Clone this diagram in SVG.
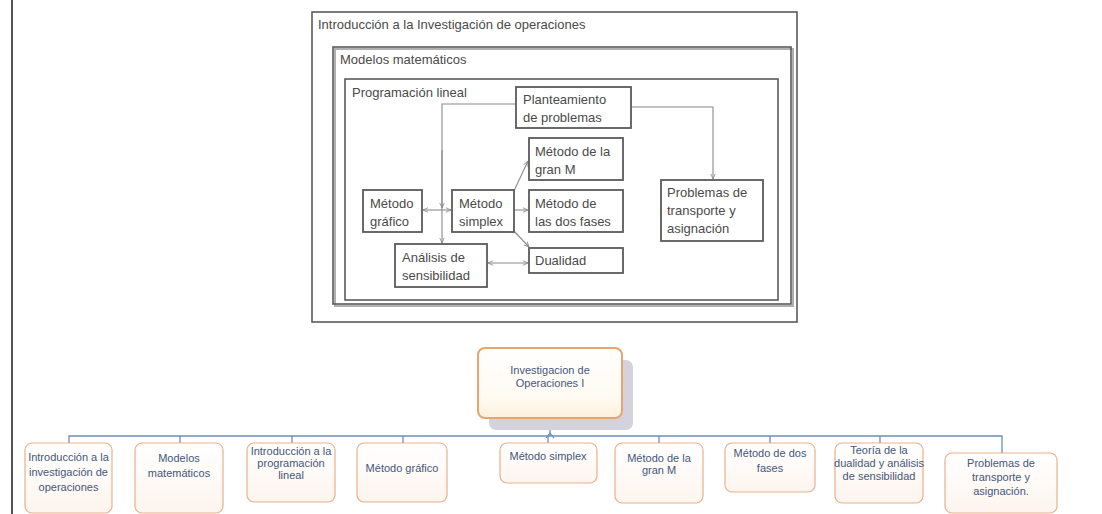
<svg xmlns="http://www.w3.org/2000/svg" width="1102" height="514" viewBox="0 0 1102 514">
<style>
.frame{fill:none;stroke:#5a5a5a;stroke-width:1.6}
.nbox{fill:#fff;stroke:#5a5a5a;stroke-width:1.8}
.t{font-family:"Liberation Sans",Arial,sans-serif;font-size:13px;fill:#4a4a4a}
.ln{fill:none;stroke:#8a8a8a;stroke-width:1.1}
.ob{fill:url(#og);stroke:#eab08a;stroke-width:1.2}
.bt{font-family:"Liberation Sans",Arial,sans-serif;font-size:11px;fill:#44577a;text-anchor:middle}
.bl{fill:none;stroke:#6f8db8;stroke-width:1.3}
</style>
<defs>
<marker id="ah" viewBox="0 0 10 10" refX="9" refY="5" markerWidth="6" markerHeight="6" orient="auto-start-reverse" markerUnits="userSpaceOnUse">
<path d="M0,1 L9,5 L0,9" fill="none" stroke="#8a8a8a" stroke-width="1.4"/>
</marker>
<linearGradient id="og" x1="0" y1="0" x2="0" y2="1">
<stop offset="0" stop-color="#ffffff"/>
<stop offset="1" stop-color="#fdf5ee"/>
</linearGradient>
<linearGradient id="rg" x1="0" y1="0" x2="0" y2="1">
<stop offset="0" stop-color="#ffffff"/>
<stop offset="0.7" stop-color="#fffaf2"/>
<stop offset="1" stop-color="#fdf0dc"/>
</linearGradient>
</defs>

<line x1="12" y1="0" x2="12" y2="514" stroke="#555" stroke-width="2"/>

<g id="frame-intro">
<rect class="frame" x="312" y="12" width="485" height="310"/>
<text class="t" x="318" y="29">Introducción a la Investigación de operaciones</text>
</g>
<g id="frame-modelos">
<rect x="335" y="49" width="458" height="257" fill="none" stroke="#b0b0b0" stroke-width="2"/>
<rect class="frame" x="333" y="47" width="458" height="257"/>
<text class="t" x="340" y="64">Modelos matemáticos</text>
</g>
<g id="frame-pl">
<rect class="frame" x="345" y="79" width="433" height="221"/>
<text class="t" x="352" y="97">Programación lineal</text>
</g>

<g id="connectors-top">
<path class="ln" d="M516,104 H442 V243" marker-end="url(#ah)"/>
<path class="ln" d="M442,150 V208" marker-end="url(#ah)"/>
<path class="ln" d="M423,210 H451" marker-start="url(#ah)" marker-end="url(#ah)"/>
<path class="ln" d="M513,193 L528,161" marker-end="url(#ah)"/>
<path class="ln" d="M514,210 H528" marker-end="url(#ah)"/>
<path class="ln" d="M513,230 L529,247" marker-end="url(#ah)"/>
<path class="ln" d="M488,263 H528" marker-start="url(#ah)" marker-end="url(#ah)"/>
<path class="ln" d="M631,107 H713 V179" marker-end="url(#ah)"/>
</g>

<g id="n-planteamiento">
<rect class="nbox" x="516" y="87" width="115" height="41"/>
<text class="t" x="523" y="104">Planteamiento</text>
<text class="t" x="523" y="122">de problemas</text>
</g>
<g id="n-granm">
<rect class="nbox" x="529" y="138" width="94" height="42"/>
<text class="t" x="535" y="156">Método de la</text>
<text class="t" x="535" y="174">gran M</text>
</g>
<g id="n-dosfases">
<rect class="nbox" x="529" y="190" width="94" height="42"/>
<text class="t" x="535" y="208">Método de</text>
<text class="t" x="535" y="226">las dos fases</text>
</g>
<g id="n-dualidad">
<rect class="nbox" x="529" y="248" width="94" height="25"/>
<text class="t" x="535" y="265">Dualidad</text>
</g>
<g id="n-transporte">
<rect class="nbox" x="661" y="180" width="102" height="61"/>
<text class="t" x="667" y="197">Problemas de</text>
<text class="t" x="667" y="215">transporte y</text>
<text class="t" x="667" y="233">asignación</text>
</g>
<g id="n-grafico">
<rect class="nbox" x="363" y="190" width="59" height="42"/>
<text class="t" x="370" y="208">Método</text>
<text class="t" x="370" y="226">gráfico</text>
</g>
<g id="n-simplex">
<rect class="nbox" x="452" y="190" width="62" height="42"/>
<text class="t" x="459" y="208">Método</text>
<text class="t" x="459" y="226">simplex</text>
</g>
<g id="n-analisis">
<rect class="nbox" x="395" y="244" width="92" height="43"/>
<text class="t" x="402" y="262">Análisis de</text>
<text class="t" x="402" y="280">sensibilidad</text>
</g>

<g id="connectors-bottom">
<path class="bl" d="M69,443 V436 H1002 V453"/>
<path class="bl" d="M550,418 V436"/>
<path d="M546,438 L550,433 L554,438" fill="none" stroke="#6f8db8" stroke-width="1.2"/>
<path class="bl" d="M180,436 V443 M292,436 V443 M403,436 V443 M548,436 V443 M659,436 V443 M770,436 V443 M880,436 V443"/>
</g>

<g id="root">
<rect x="489" y="360" width="144" height="70" rx="7" fill="#d4d2dc"/>
<rect x="478" y="348" width="144" height="70" rx="7" fill="url(#rg)" stroke="#eaa46e" stroke-width="2"/>
<text class="bt" x="550" y="374">Investigacion de</text>
<text class="bt" x="550" y="387">Operaciones I</text>
</g>

<g id="c1">
<rect class="ob" x="25" y="443" width="87" height="70" rx="7"/>
<text class="bt" x="68.5" y="461">Introducción a la</text>
<text class="bt" x="68.5" y="476">investigación de</text>
<text class="bt" x="68.5" y="491">operaciones</text>
</g>
<g id="c2">
<rect class="ob" x="135" y="443" width="88" height="70" rx="7"/>
<text class="bt" x="179" y="462">Modelos</text>
<text class="bt" x="179" y="477">matemáticos</text>
</g>
<g id="c3">
<rect class="ob" x="247" y="443" width="88" height="59" rx="7"/>
<text class="bt" x="291" y="455">Introducción a la</text>
<text class="bt" x="291" y="467">programación</text>
<text class="bt" x="291" y="479">lineal</text>
</g>
<g id="c4">
<rect class="ob" x="357" y="443" width="90" height="59" rx="7"/>
<text class="bt" x="402" y="472">Método gráfico</text>
</g>
<g id="c5">
<rect class="ob" x="500" y="443" width="97" height="40" rx="7"/>
<text class="bt" x="548" y="460">Método simplex</text>
</g>
<g id="c6">
<rect class="ob" x="615" y="443" width="88" height="60" rx="7"/>
<text class="bt" x="659" y="462">Método de la</text>
<text class="bt" x="659" y="474">gran M</text>
</g>
<g id="c7">
<rect class="ob" x="725" y="443" width="90" height="49" rx="7"/>
<text class="bt" x="770" y="457">Método de dos</text>
<text class="bt" x="770" y="472">fases</text>
</g>
<g id="c8">
<rect class="ob" x="835" y="443" width="88" height="60" rx="7"/>
<text class="bt" x="879" y="454">Teoría de la</text>
<text class="bt" x="879" y="467">dualidad y análisis</text>
<text class="bt" x="879" y="480">de sensibilidad</text>
</g>
<g id="c9">
<rect class="ob" x="945" y="453" width="112" height="60" rx="7"/>
<text class="bt" x="1001" y="467">Problemas de</text>
<text class="bt" x="1001" y="481">transporte y</text>
<text class="bt" x="1001" y="495">asignación.</text>
</g>
</svg>
